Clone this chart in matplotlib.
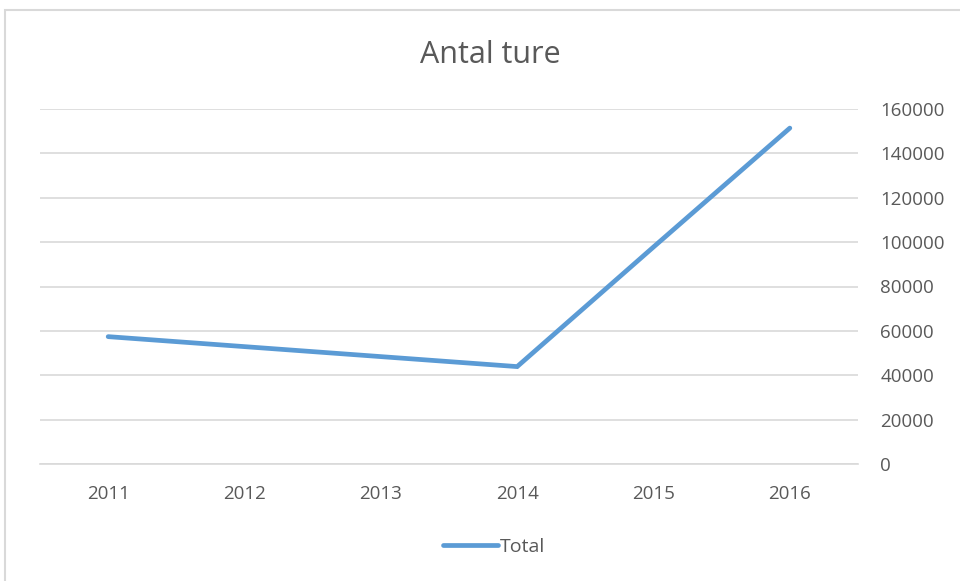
import matplotlib.pyplot as plt
from matplotlib.patches import Rectangle

# --- Data ---
years = ['2011', '2012', '2013', '2014', '2015', '2016']
total = [57400, 52900, 48400, 43900, 97800, 151400]
y_ticks = [0, 20000, 40000, 60000, 80000, 100000, 120000, 140000, 160000]

plt.rcParams['font.family'] = ['Open Sans', 'DejaVu Sans']
txt_color = '#595959'

fig = plt.figure(figsize=(9.6, 5.81), dpi=100)
ax = fig.add_axes([40 / 960, 1 - 464 / 581, 818 / 960, 355 / 581])

ax.plot(range(len(years)), total, color='#5b9bd5', lw=3.4,
        solid_capstyle='round', solid_joinstyle='miter', label='Total')

ax.set_xlim(-0.5, len(years) - 0.5)
ax.set_ylim(0, 160000)
ax.set_xticks(range(len(years)))
ax.set_xticklabels(years)
ax.set_yticks(y_ticks)
ax.set_yticklabels([str(v) for v in y_ticks])
ax.yaxis.tick_right()
ax.tick_params(axis='both', length=0, labelsize=13.5, colors=txt_color)
ax.tick_params(axis='y', pad=16)
ax.tick_params(axis='x', pad=15)
ax.grid(axis='y', color='#d9d9d9', lw=1.2)
ax.set_axisbelow(True)
for s in ['top', 'right', 'left']:
    ax.spines[s].set_visible(False)
ax.spines['bottom'].set_color('#d9d9d9')
ax.spines['bottom'].set_linewidth(1.2)

fig.text(490 / 960, 1 - 55 / 581, 'Antal ture', ha='center', va='center',
         fontsize=22, color=txt_color)

leg = fig.legend(loc='center', bbox_to_anchor=(494 / 960, 1 - 547 / 581),
                 frameon=False, fontsize=14, handlelength=2.8,
                 handletextpad=0.1, labelcolor=txt_color)

# chart border
fig.patches.append(Rectangle((5 / 960, -0.05), 1.0, 1 - 10 / 581 + 0.05,
                             transform=fig.transFigure, fill=False,
                             edgecolor='#d9d9d9', lw=1.5))

plt.savefig('out.png', dpi=100)
plt.close()
